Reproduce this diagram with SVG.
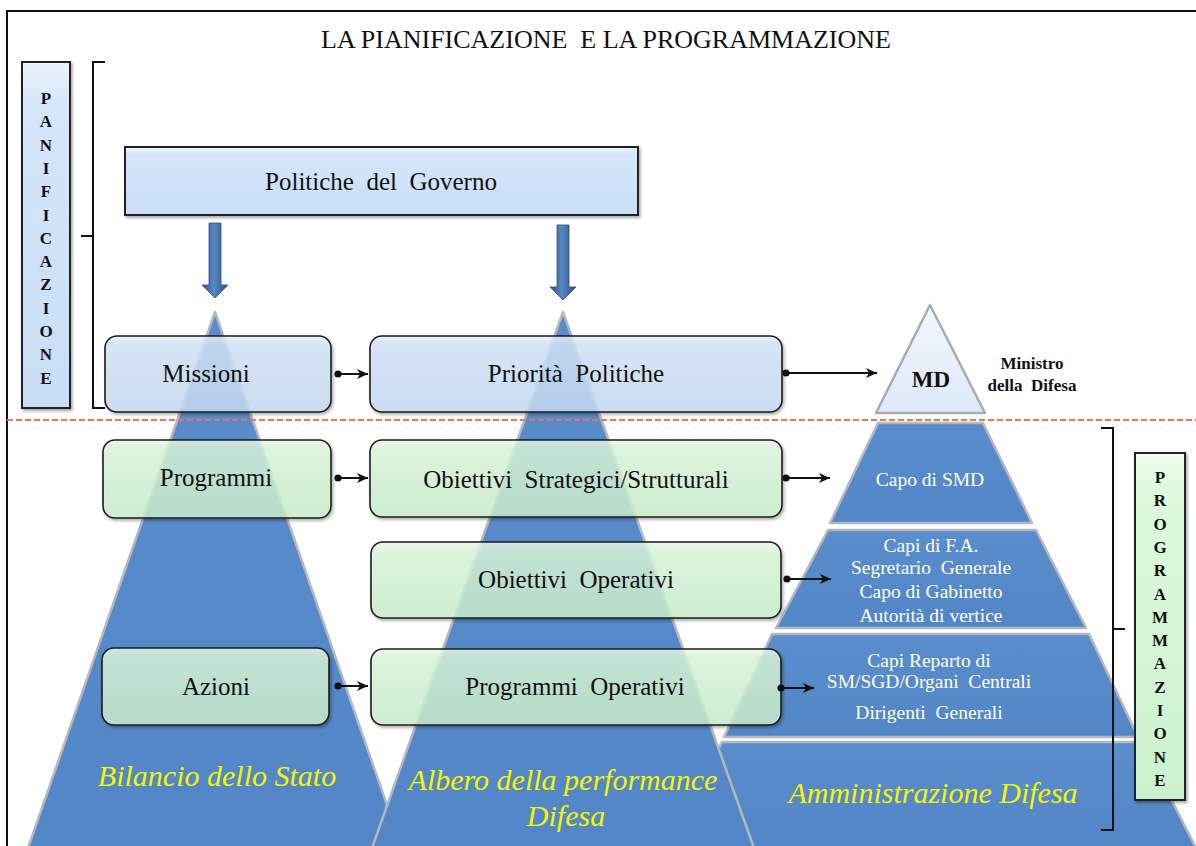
<svg xmlns="http://www.w3.org/2000/svg" width="1196" height="846" viewBox="0 0 1196 846">
<style>
text{white-space:pre}
.serif{font-family:"Liberation Serif","Times New Roman",serif}
.box{stroke:#1c1c1c;stroke-width:1.6}
.bt{font-family:"Liberation Serif","Times New Roman",serif;font-size:25px;fill:#111;text-anchor:middle}
.wt{font-family:"Liberation Serif","Times New Roman",serif;font-size:19.5px;fill:#fff;text-anchor:middle}
.yt{font-family:"Liberation Serif","Times New Roman",serif;font-style:italic;font-size:30px;fill:#f5f500;text-anchor:middle}
.vt{font-family:"Liberation Serif","Times New Roman",serif;font-weight:bold;font-size:17px;fill:#111;text-anchor:middle}
.pyr{fill:url(#pyrG);stroke:#b4b8be;stroke-width:2.5;stroke-linejoin:round}
.conn{stroke:#111;stroke-width:2;fill:none;marker-start:url(#dot);marker-end:url(#arr)}
.brk{stroke:#111;stroke-width:2;fill:none}
</style>
<defs>
<linearGradient id="blueG" x1="0" y1="0" x2="0" y2="1">
<stop offset="0" stop-color="#eaf3fd"/><stop offset="0.12" stop-color="#d5e6fa"/><stop offset="1" stop-color="#c8ddf6"/>
</linearGradient>
<linearGradient id="greenG" x1="0" y1="0" x2="0" y2="1">
<stop offset="0" stop-color="#f0fdf0"/><stop offset="0.12" stop-color="#dcf9dc"/><stop offset="1" stop-color="#ccf1cf"/>
</linearGradient>
<linearGradient id="pyrG" x1="0" y1="0" x2="0" y2="1">
<stop offset="0" stop-color="#5a8dcc"/><stop offset="1" stop-color="#5286c6"/>
</linearGradient>
<linearGradient id="mdG" x1="0" y1="0" x2="0" y2="1">
<stop offset="0" stop-color="#f2f7fd"/><stop offset="1" stop-color="#dde9f8"/>
</linearGradient>
<linearGradient id="arrG" x1="0" y1="0" x2="1" y2="0">
<stop offset="0" stop-color="#2c578e"/><stop offset="0.45" stop-color="#5a86c0"/><stop offset="1" stop-color="#2a5288"/>
</linearGradient>
<filter id="sh" x="-10%" y="-10%" width="120%" height="130%">
<feDropShadow dx="1.5" dy="2" stdDeviation="1.5" flood-color="#000" flood-opacity="0.35"/>
</filter>
<marker id="dot" markerWidth="8" markerHeight="8" refX="4" refY="4" markerUnits="userSpaceOnUse">
<circle cx="4" cy="4" r="3.6" fill="#111"/>
</marker>
<marker id="arr" markerWidth="12" markerHeight="10" refX="11" refY="5" orient="auto" markerUnits="userSpaceOnUse">
<path d="M0,0 L11,5 L0,10 L3,5 Z" fill="#111"/>
</marker>
</defs>

<rect x="0" y="0" width="1196" height="846" fill="#fff"/>
<path d="M7,846 V11 H1196" fill="none" stroke="#111" stroke-width="2"/>

<text class="serif" x="606" y="48" font-size="26" text-anchor="middle" fill="#111">LA PIANIFICAZIONE  E LA PROGRAMMAZIONE</text>

<!-- Pyramids -->
<g id="pyramid-difesa">
<polygon points="930,305 985,413 876,413" fill="url(#mdG)" stroke="#a8acb2" stroke-width="2.5" stroke-linejoin="round"/>
<polygon class="pyr" points="878,423 983,423 1032,523 830,523"/>
<polygon class="pyr" points="828,530 1036,530 1086,628 776,628"/>
<polygon class="pyr" points="772,634 1089,634 1138,737 724,737"/>
<polygon class="pyr" points="722,742 1142,742 1196,848 668,848"/>
</g>
<g id="pyramid-bilancio">
<polygon class="pyr" points="215,312 402,848 28,848"/>
</g>
<g id="pyramid-albero">
<polygon class="pyr" points="563,312 754,848 372,848"/>
</g>

<line x1="7" y1="420" x2="1196" y2="420" stroke="#f07555" stroke-width="2" stroke-dasharray="6,3"/>

<!-- Side labels -->
<g id="pianificazione">
<rect x="22" y="62" width="48" height="346" fill="url(#blueG)" stroke="#222" stroke-width="2" filter="url(#sh)"/>
<text class="vt" x="46" y="104">P<tspan x="46" dy="23.3">A</tspan><tspan x="46" dy="23.3">N</tspan><tspan x="46" dy="23.3">I</tspan><tspan x="46" dy="23.3">F</tspan><tspan x="46" dy="23.3">I</tspan><tspan x="46" dy="23.3">C</tspan><tspan x="46" dy="23.3">A</tspan><tspan x="46" dy="23.3">Z</tspan><tspan x="46" dy="23.3">I</tspan><tspan x="46" dy="23.3">O</tspan><tspan x="46" dy="23.3">N</tspan><tspan x="46" dy="23.3">E</tspan></text>
<path class="brk" d="M105,62 H93 V408 H105 M93,236 H81"/>
</g>
<g id="programmazione">
<rect x="1135" y="453" width="50" height="347" fill="url(#greenG)" stroke="#222" stroke-width="2" filter="url(#sh)"/>
<text class="vt" x="1160" y="483">P<tspan x="1160" dy="23.3">R</tspan><tspan x="1160" dy="23.3">O</tspan><tspan x="1160" dy="23.3">G</tspan><tspan x="1160" dy="23.3">R</tspan><tspan x="1160" dy="23.3">A</tspan><tspan x="1160" dy="23.3">M</tspan><tspan x="1160" dy="23.3">M</tspan><tspan x="1160" dy="23.3">A</tspan><tspan x="1160" dy="23.3">Z</tspan><tspan x="1160" dy="23.3">I</tspan><tspan x="1160" dy="23.3">O</tspan><tspan x="1160" dy="23.3">N</tspan><tspan x="1160" dy="23.3">E</tspan></text>
<path class="brk" d="M1101,428 H1113 V830 H1101 M1113,629 H1125"/>
</g>

<!-- Politiche del Governo -->
<g id="politiche-governo">
<rect x="125" y="147" width="513" height="68" fill="url(#blueG)" stroke="#222" stroke-width="2" filter="url(#sh)"/>
<text class="bt" x="381" y="190">Politiche  del  Governo</text>
</g>

<!-- Down arrows -->
<g id="down-arrows">
<path d="M209,223 H221 V285 H228 L215,298 L202,285 H209 Z" fill="url(#arrG)" stroke="#2a4f80" stroke-width="0.8"/>
<path d="M557,225 H569 V287 H576 L563,300 L550,287 H557 Z" fill="url(#arrG)" stroke="#2a4f80" stroke-width="0.8"/>
</g>

<!-- Boxes -->
<g id="missioni">
<rect class="box" x="105" y="336" width="226" height="76" rx="12" fill="url(#blueG)" fill-opacity="0.82" filter="url(#sh)"/>
<text class="bt" x="206" y="382">Missioni</text>
</g>
<g id="priorita-politiche">
<rect class="box" x="370" y="336" width="412" height="76" rx="12" fill="url(#blueG)" fill-opacity="0.82" filter="url(#sh)"/>
<text class="bt" x="576" y="382">Priorità  Politiche</text>
</g>
<g id="programmi">
<rect class="box" x="103" y="440" width="228" height="78" rx="12" fill="url(#greenG)" fill-opacity="0.8" filter="url(#sh)"/>
<text class="bt" x="216" y="486">Programmi</text>
</g>
<g id="obiettivi-strategici">
<rect class="box" x="370" y="440" width="412" height="77" rx="12" fill="url(#greenG)" fill-opacity="0.8" filter="url(#sh)"/>
<text class="bt" x="576" y="488">Obiettivi  Strategici/Strutturali</text>
</g>
<g id="obiettivi-operativi">
<rect class="box" x="371" y="542" width="410" height="76" rx="12" fill="url(#greenG)" fill-opacity="0.8" filter="url(#sh)"/>
<text class="bt" x="576" y="588">Obiettivi  Operativi</text>
</g>
<g id="azioni">
<rect class="box" x="102" y="648" width="227" height="77" rx="12" fill="url(#greenG)" fill-opacity="0.8" filter="url(#sh)"/>
<text class="bt" x="216" y="695">Azioni</text>
</g>
<g id="programmi-operativi">
<rect class="box" x="371" y="649" width="410" height="76" rx="12" fill="url(#greenG)" fill-opacity="0.8" filter="url(#sh)"/>
<text class="bt" x="575" y="695">Programmi  Operativi</text>
</g>

<!-- Connectors -->
<g id="connectors">
<line class="conn" x1="338" y1="374" x2="368" y2="374"/>
<line class="conn" x1="786" y1="373" x2="877" y2="373"/>
<line class="conn" x1="338" y1="478" x2="368" y2="478"/>
<line class="conn" x1="786" y1="478" x2="830" y2="478"/>
<line class="conn" x1="787" y1="579" x2="831" y2="579"/>
<line class="conn" x1="338" y1="686" x2="368" y2="686"/>
<line class="conn" x1="781" y1="688" x2="814" y2="688"/>
</g>

<!-- Pyramid texts -->
<g id="pyramid-labels">
<text class="serif" x="931" y="387" font-size="23" font-weight="bold" text-anchor="middle" fill="#111">MD</text>
<text class="serif" x="1032" y="369" font-size="17" font-weight="bold" text-anchor="middle" fill="#111">Ministro</text>
<text class="serif" x="1032" y="391" font-size="17" font-weight="bold" text-anchor="middle" fill="#111">della  Difesa</text>
<text class="wt" x="930" y="486">Capo di SMD</text>
<text class="wt" x="931" y="552">Capi di F.A.</text>
<text class="wt" x="931" y="574">Segretario  Generale</text>
<text class="wt" x="931" y="598">Capo di Gabinetto</text>
<text class="wt" x="931" y="622">Autorità di vertice</text>
<text class="wt" x="929" y="667">Capi Reparto di</text>
<text class="wt" x="929" y="688">SM/SGD/Organi  Centrali</text>
<text class="wt" x="929" y="719">Dirigenti  Generali</text>
<text class="yt" x="933" y="803">Amministrazione Difesa</text>
<text class="yt" x="217" y="786">Bilancio dello Stato</text>
<text class="yt" x="563" y="790">Albero della performance</text>
<text class="yt" x="566" y="826">Difesa</text>
</g>
</svg>
